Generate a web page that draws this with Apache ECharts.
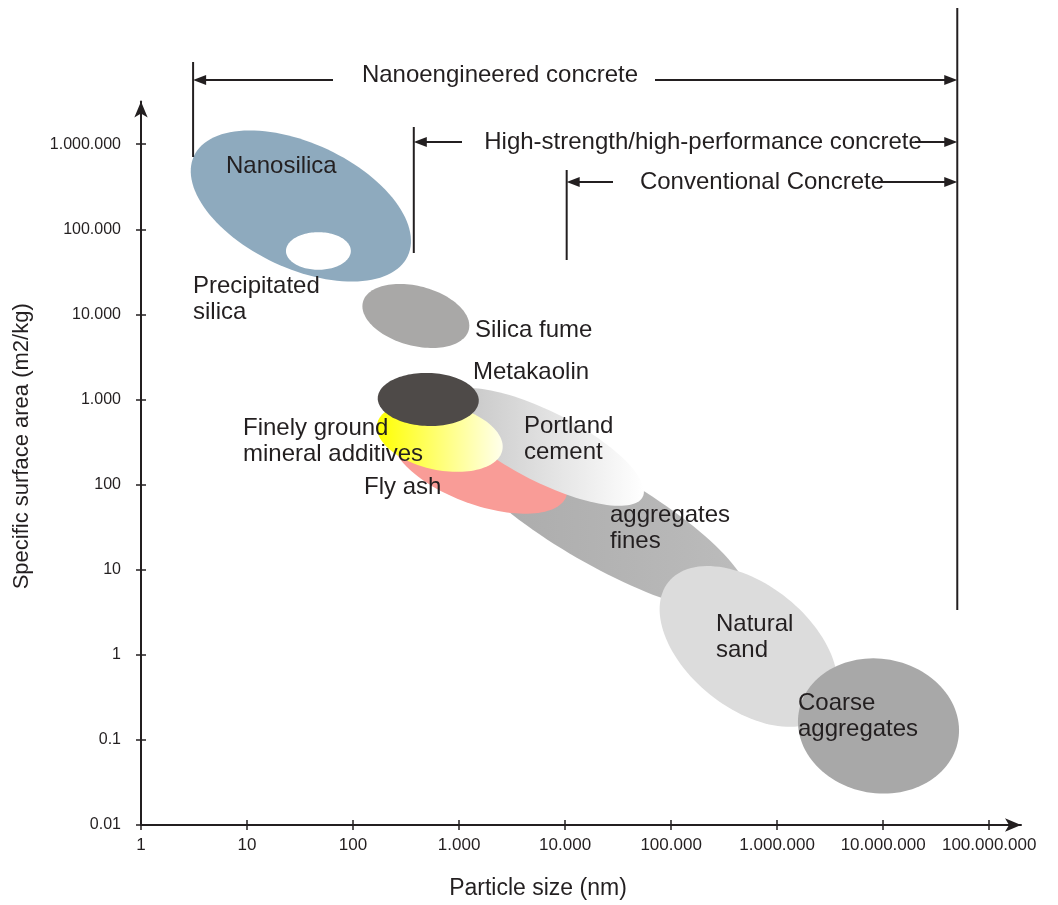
<!DOCTYPE html>
<html>
<head>
<meta charset="utf-8">
<script src="https://cdn.jsdelivr.net/npm/echarts@6/dist/echarts.min.js"></script>
<style>
  html, body { margin: 0; padding: 0; background: #fff; }
  #chart { width: 1058px; height: 905px; }
</style>
</head>
<body>
<div id="chart"></div>
<script>
// axis decades and their printed labels
const xTickValues = [1, 10, 100, 1000, 1e4, 1e5, 1e6, 1e7, 1e8];
const xTickLabels = ["1", "10", "100", "1.000", "10.000", "100.000", "1.000.000", "10.000.000", "100.000.000"];
const yTickValues = [0.01, 0.1, 1, 10, 100, 1000, 1e4, 1e5, 1e6];
const yTickLabels = ["0.01", "0.1", "1", "10", "100", "1.000", "10.000", "100.000", "1.000.000"];

// materials, in drawing order (later ones lie on top)
const materials = [
  "Nanosilica", "Precipitated\nsilica", "Silica fume", "aggregates\nfines", "Fly ash",
  "Portland\ncement", "Finely ground\nmineral additives", "Metakaolin", "Natural\nsand", "Coarse\naggregates"
];
// long axis of each region: from (sizeFrom, areaFrom) to (sizeTo, areaTo), nm and m2/kg
const sizeFrom = [3.16, 23.3, 124, 869, 240, 766, 169, 171, 94400, 1600000];
const areaFrom = [726000, 55600, 14000, 404, 398, 1067, 520, 1042, 7.17, 0.213];
const sizeTo = [328, 95.3, 1234, 517000, 10240, 53900, 2559, 1534, 3063000, 51000000];
const areaTo = [48500, 55600, 6560, 4.06, 72.4, 71.6, 253, 960, 0.219, 0.0996];
// short axis / long axis
const widthRatio = [0.53, 0.58, 0.545, 0.27, 0.43, 0.318, 0.516, 0.525, 0.60, 0.83];

// concrete classes: smallest particle size each one uses, all up to maxSize
const concreteClasses = ["Nanoengineered concrete", "High-strength/high-performance concrete", "Conventional Concrete"];
const minSize = [3.1, 374, 10350];
const maxSize = 5e7;

// ---- styles / layout ----
const ink = "#231f20";
const font = "'Liberation Sans', Arial, sans-serif";
const grad = (c0, c1) => ({
  type: "linear", x: 0, y: 0, x2: 1, y2: 0,
  colorStops: [{ offset: 0, color: c0 }, { offset: 1, color: c1 }],
});
const fills = [
  "#8eaabe", "#ffffff", "#a9a8a7", grad("#a9a9a9", "#bcbcbc"), "#f99c97",
  grad("#c2c2c2", "#ffffff"), grad("#ffff00", "#ffffec"), "#4e4a48", "#dcdcdc", "#a8a8a8"
];
const labelX = [226, 193, 475, 610, 364, 524, 243, 473, 716, 798];
const labelY = [166, 286, 330, 515, 487, 426, 428, 372, 624, 703];

const rowY = [80, 142, 182];
const lineTop = [62, 127, 170];
const lineBottom = [157, 253, 260];
const arrowLeftEnd = [333, 462, 613];
const arrowRightStart = [655, 915, 877];
const textX = [500, 703, 762];
const textY = [75, 142, 182];
const limitTop = 8, limitBottom = 610;

const lg = Math.log10;
const xTickExp = xTickValues.map(lg);
const yTickExp = yTickValues.map(lg);
const labelFor = (exps, labels) => (v) => {
  const i = exps.findIndex((e) => Math.abs(e - v) < 1e-6);
  return i < 0 ? "" : labels[i];
};

const ellipseData = materials.map((m, i) => [
  lg(sizeFrom[i]), lg(areaFrom[i]), lg(sizeTo[i]), lg(areaTo[i]), widthRatio[i],
]);

function renderEllipse(params, api) {
  const p1 = api.coord([api.value(0), api.value(1)]);
  const p2 = api.coord([api.value(2), api.value(3)]);
  const cx = (p1[0] + p2[0]) / 2, cy = (p1[1] + p2[1]) / 2;
  const a = Math.hypot(p2[0] - p1[0], p2[1] - p1[1]) / 2;
  const b = a * api.value(4);
  const ang = Math.atan2(p2[1] - p1[1], p2[0] - p1[0]);
  const pts = [];
  for (let k = 0; k < 120; k++) {
    const t = (k / 120) * Math.PI * 2;
    const u = a * Math.cos(t), v = b * Math.sin(t);
    pts.push([cx + u * Math.cos(ang) - v * Math.sin(ang), cy + u * Math.sin(ang) + v * Math.cos(ang)]);
  }
  return { type: "polygon", shape: { points: pts }, style: { fill: fills[params.dataIndex] } };
}

function arrowHead(tipX, y, dir) {
  return {
    type: "polygon",
    shape: { points: [[tipX, y], [tipX - dir * 13, y - 5], [tipX - dir * 13, y + 5]] },
    style: { fill: ink },
  };
}

function renderBracket(params, api) {
  const i = params.dataIndex;
  const xL = api.coord([api.value(0), 0])[0];
  const xR = api.coord([api.value(1), 0])[0];
  const y = rowY[i];
  const ls = { stroke: ink, lineWidth: 2 };
  return {
    type: "group",
    children: [
      { type: "line", shape: { x1: xL, y1: lineTop[i], x2: xL, y2: lineBottom[i] }, style: ls },
      { type: "line", shape: { x1: xL + 8, y1: y, x2: arrowLeftEnd[i], y2: y }, style: ls },
      arrowHead(xL, y, -1),
      { type: "line", shape: { x1: arrowRightStart[i], y1: y, x2: xR - 8, y2: y }, style: ls },
      arrowHead(xR, y, 1),
      {
        type: "text",
        style: {
          text: concreteClasses[i], x: textX[i], y: textY[i],
          font: "24px " + font, fill: ink, align: "center", verticalAlign: "middle",
        },
      },
    ],
  };
}

function renderLimit(params, api) {
  const x = api.coord([api.value(0), 0])[0];
  return {
    type: "line",
    shape: { x1: x, y1: limitTop, x2: x, y2: limitBottom },
    style: { stroke: ink, lineWidth: 2 },
  };
}

function renderLabel(params, api) {
  const i = params.dataIndex;
  return {
    type: "text",
    style: {
      text: materials[i], x: labelX[i], y: labelY[i] - 13,
      font: "24px " + font, lineHeight: 26, fill: ink, align: "left", verticalAlign: "top",
    },
  };
}

const chart = echarts.init(document.getElementById("chart"));

const xBase = { type: "value", min: 0, max: 8.3, interval: 1, position: "bottom", splitLine: { show: false } };
const yBase = { type: "value", min: -2, max: 6.5, interval: 1, position: "left", splitLine: { show: false } };

chart.setOption({
  animation: false,
  backgroundColor: "#ffffff",
  grid: { left: 141, right: 37, top: 101.6, bottom: 80 },
  xAxis: [
    Object.assign({}, xBase, {
      axisLine: { onZero: false, lineStyle: { color: ink, width: 2 }, symbol: ["none", "arrow"], symbolSize: [10, 16] },
      axisTick: { inside: false, length: 5, customValues: xTickExp, lineStyle: { color: ink, width: 1.5 } },
      axisLabel: {
        customValues: xTickExp, formatter: labelFor(xTickExp, xTickLabels),
        color: ink, fontSize: 17, fontFamily: font, margin: 12,
      },
      name: "Particle size (nm)", nameLocation: "middle", nameGap: 52,
      nameTextStyle: { color: ink, fontSize: 23, fontFamily: font, padding: [0, 86, 0, 0] },
    }),
    Object.assign({}, xBase, {
      axisLine: { show: false, onZero: false },
      axisTick: { inside: true, length: 5, customValues: xTickExp, lineStyle: { color: ink, width: 1.5 } },
      axisLabel: { show: false },
    }),
  ],
  yAxis: [
    Object.assign({}, yBase, {
      axisLine: { show: true, onZero: false, lineStyle: { color: ink, width: 2 }, symbol: ["none", "arrow"], symbolSize: [10, 16] },
      axisTick: { show: true, inside: false, length: 5, customValues: yTickExp, lineStyle: { color: ink, width: 1.5 } },
      axisLabel: {
        customValues: yTickExp, formatter: labelFor(yTickExp, yTickLabels),
        color: ink, fontSize: 16, fontFamily: font, margin: 20,
      },
      name: "Specific surface area (m2/kg)", nameLocation: "middle", nameGap: 108,
      nameTextStyle: { color: ink, fontSize: 22, fontFamily: font, padding: [0, 0, 0, 34] },
    }),
    Object.assign({}, yBase, {
      axisLine: { show: false, onZero: false },
      axisTick: { show: true, inside: true, length: 5, customValues: yTickExp, lineStyle: { color: ink, width: 1.5 } },
      axisLabel: { show: false },
    }),
  ],
  series: [
    {
      type: "custom", name: "materials", renderItem: renderEllipse, clip: false,
      data: ellipseData, encode: { x: [0, 2], y: [1, 3] }, z: 2,
    },
    {
      type: "custom", name: "labels", renderItem: renderLabel, clip: false,
      data: ellipseData, encode: { x: [0, 2], y: [1, 3] }, z: 4,
    },
    {
      type: "custom", name: "classes", renderItem: renderBracket, clip: false,
      data: concreteClasses.map((c, i) => [lg(minSize[i]), lg(maxSize)]), encode: { x: [0, 1] }, z: 5,
    },
    {
      type: "custom", name: "limit", renderItem: renderLimit, clip: false,
      data: [[lg(maxSize)]], encode: { x: 0 }, z: 5,
    },
  ],
});
</script>
</body>
</html>
